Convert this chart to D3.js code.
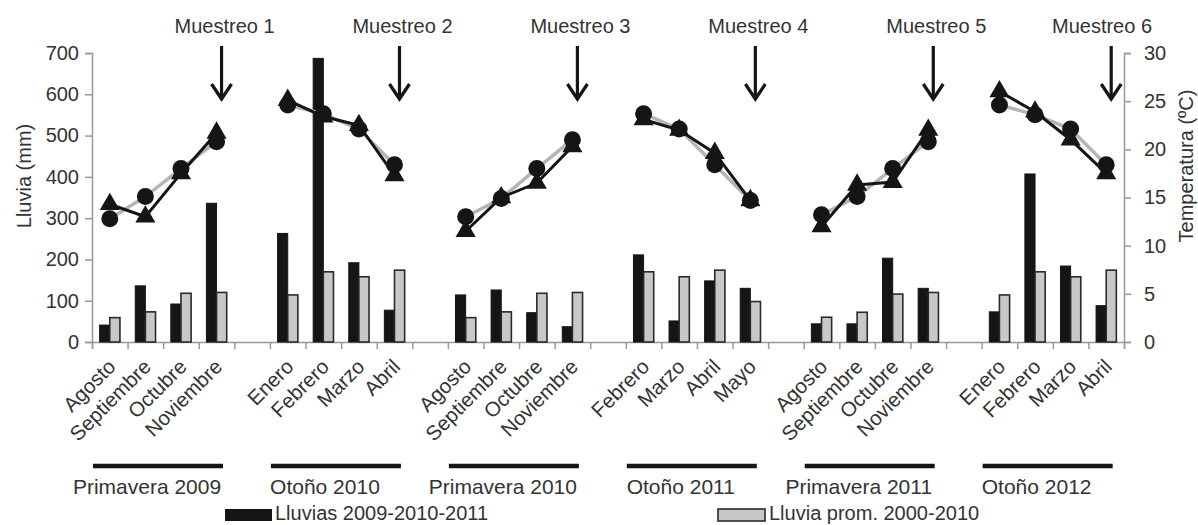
<!DOCTYPE html>
<html><head><meta charset="utf-8">
<script src="https://cdn.jsdelivr.net/npm/d3@7"></script>
<style>
body{margin:0;background:#fff;}
svg text{font-family:"Liberation Sans",Arial,sans-serif;fill:#333;}
</style></head>
<body><svg id="c" width="1198" height="525"></svg>
<script>
const months = ["Agosto","Septiembre","Octubre","Noviembre",null,"Enero","Febrero","Marzo","Abril",null,
  "Agosto","Septiembre","Octubre","Noviembre",null,"Febrero","Marzo","Abril","Mayo",null,
  "Agosto","Septiembre","Octubre","Noviembre",null,"Enero","Febrero","Marzo","Abril"];
const lluvias = [41,136,92,336,null,263,687,192,77,null,114,126,71,37,null,211,51,148,130,null,44,44,203,130,null,73,407,184,88];
const lluviaProm = [59,73,118,120,null,114,170,158,174,null,59,73,118,120,null,170,158,174,98,null,60,72,116,120,null,114,170,158,174];
const tempCirculo = [12.8,15.1,18.0,20.8,null,24.6,23.7,22.1,18.4,null,13.0,14.9,18.0,21.0,null,23.7,22.1,18.4,14.7,null,13.2,15.1,18.0,20.8,null,24.6,23.6,22.1,18.4];
const tempTriangulo = [14.3,13.0,17.5,21.7,null,25.1,23.4,22.5,17.3,null,11.5,15.0,16.5,20.3,null,23.1,22.0,19.6,14.7,null,12.0,16.3,16.6,22.0,null,26.0,23.9,21.0,17.5];
const seasons = ["Primavera 2009","Otoño 2010","Primavera 2010","Otoño 2011","Primavera 2011","Otoño 2012"];
const muestreos = ["Muestreo 1","Muestreo 2","Muestreo 3","Muestreo 4","Muestreo 5","Muestreo 6"];
const muestreoIdx = [3,8,13,18,23,28];
const leftTicks = [0,100,200,300,400,500,600,700];
const rightTicks = [0,5,10,15,20,25,30];
const legendLabels = ["Lluvias 2009-2010-2011","Lluvia prom. 2000-2010"];

const svg = d3.select("#c");
const X0 = 92, X1 = 1124, Y0 = 342, YT = 53;
const idx = d3.range(months.length);
const x = d3.scaleBand().domain(idx).range([X0, X1]).paddingInner(0.43).paddingOuter(0.215);
const xb = d3.scaleLinear().domain([0, months.length]).range([X0, X1]);
const yL = d3.scaleLinear().domain([0, 700]).range([Y0, YT]);
const yR = d3.scaleLinear().domain([0, 30]).range([Y0, YT]);
const sub = d3.scaleBand().domain([0,1]).range([0, x.bandwidth()]);
const cx = i => x(i) + x.bandwidth()/2;
const grey = "#999";

// axes
const gL = svg.append("g").attr("transform",`translate(${X0},0)`)
  .call(d3.axisLeft(yL).tickValues(leftTicks).tickSize(7).tickPadding(6));
const gR = svg.append("g").attr("transform",`translate(${X1},0)`)
  .call(d3.axisRight(yR).tickValues(rightTicks).tickSize(7).tickPadding(13));
const gB = svg.append("g").attr("transform",`translate(0,${Y0})`)
  .call(d3.axisBottom(xb).tickValues(d3.range(months.length+1)).tickSize(7).tickFormat(""));
[gL,gR,gB].forEach(g=>{
  g.selectAll("path.domain").attr("stroke",grey).attr("stroke-width",1.5);
  g.selectAll(".tick line").attr("stroke",grey).attr("stroke-width",1.5);
  g.selectAll(".tick text").attr("font-size",20).attr("fill","#333")
   .style("font-family","'Liberation Sans',Arial,sans-serif");
});

svg.append("text").attr("transform",`translate(31,176) rotate(-90)`).attr("text-anchor","middle")
  .attr("font-size",20).text("Lluvia (mm)");
svg.append("text").attr("transform",`translate(1193,166) rotate(-90)`).attr("text-anchor","middle")
  .attr("font-size",20).text("Temperatura (ºC)");

// bars
const barData = idx.filter(i => months[i] !== null);
svg.append("g").selectAll("rect").data(barData).join("rect")
  .attr("x", i => x(i) + sub(0)).attr("width", sub.bandwidth())
  .attr("y", i => yL(lluvias[i])).attr("height", i => Y0 - yL(lluvias[i]))
  .attr("fill","#151515").attr("stroke","#151515").attr("stroke-width",1);
svg.append("g").selectAll("rect").data(barData).join("rect")
  .attr("x", i => x(i) + sub(1)).attr("width", sub.bandwidth())
  .attr("y", i => yL(lluviaProm[i])).attr("height", i => Y0 - yL(lluviaProm[i]))
  .attr("fill","#c8c8c8").attr("stroke","#2a2a2a").attr("stroke-width",1.6);

// temperature lines
const mkLine = arr => d3.line().defined(i => arr[i] !== null).x(cx).y(i => yR(arr[i]));
svg.append("path").datum(idx).attr("d", mkLine(tempCirculo)(idx))
  .attr("fill","none").attr("stroke","#b5b5b5").attr("stroke-width",3.5);
svg.append("path").datum(idx).attr("d", mkLine(tempTriangulo)(idx))
  .attr("fill","none").attr("stroke","#151515").attr("stroke-width",3);
const tri = d3.symbol().type(d3.symbolTriangle).size(175);
svg.append("g").selectAll("path").data(idx.filter(i=>tempTriangulo[i]!==null)).join("path")
  .attr("d", tri).attr("transform", i => `translate(${cx(i)},${yR(tempTriangulo[i])})`)
  .attr("fill","#151515");
svg.append("g").selectAll("circle").data(idx.filter(i=>tempCirculo[i]!==null)).join("circle")
  .attr("cx", cx).attr("cy", i => yR(tempCirculo[i])).attr("r", 8.5)
  .attr("fill","#151515");

// muestreo arrows
const mg = svg.append("g").selectAll("g").data(muestreos).join("g")
  .attr("transform",(d,k)=>`translate(${cx(muestreoIdx[k])+5},0)`);
mg.append("line").attr("x1",0).attr("x2",0).attr("y1",46).attr("y2",99)
  .attr("stroke","#151515").attr("stroke-width",3.2);
mg.append("path").attr("d","M-10,84 L0,99 L10,84").attr("fill","none")
  .attr("stroke","#151515").attr("stroke-width",3.2).attr("stroke-linejoin","miter");
mg.append("text").attr("x",(d,k)=> Math.min(cx(muestreoIdx[k])+5, 1099) - (cx(muestreoIdx[k])+5) + 3)
  .attr("y",33).attr("text-anchor","middle").attr("font-size",20).text(d=>d);

// month labels
svg.append("g").selectAll("text").data(barData).join("text")
  .attr("transform", i => `translate(${cx(i)+7},${Y0+26}) rotate(-45)`)
  .attr("text-anchor","end").attr("font-size",20.5).text(i => months[i]);

// seasons
const sg = svg.append("g").selectAll("g").data(seasons).join("g");
sg.append("line").attr("x1",(d,k)=>xb(k*5)+1).attr("x2",(d,k)=>xb(k*5)+131)
  .attr("y1",466).attr("y2",466).attr("stroke","#151515").attr("stroke-width",4.5);
sg.append("text").attr("x",(d,k)=>xb(k*5)+66-11).attr("y",494).attr("text-anchor","middle")
  .attr("font-size",21).text(d=>d);

// legend
const lg = svg.append("g");
lg.append("rect").attr("x",225).attr("y",509).attr("width",47).attr("height",12).attr("fill","#151515");
lg.append("text").attr("x",275).attr("y",519.5).attr("font-size",20).text(legendLabels[0]);
lg.append("rect").attr("x",718).attr("y",509).attr("width",47).attr("height",12)
  .attr("fill","#c8c8c8").attr("stroke","#2a2a2a").attr("stroke-width",1.6);
lg.append("text").attr("x",769).attr("y",519.5).attr("font-size",20).text(legendLabels[1]);
</script></body></html>
